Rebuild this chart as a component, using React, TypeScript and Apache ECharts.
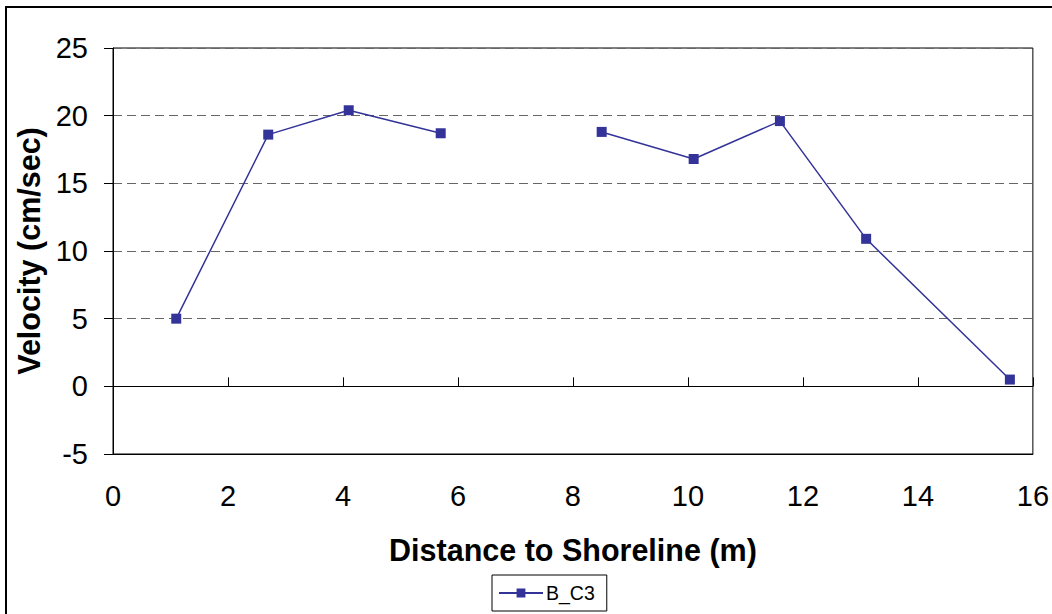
import React, { useEffect, useRef } from "react";
import * as echarts from "echarts";

const distance: number[] = [1.1, 2.7, 4.1, 5.7, 7.1, 8.5, 10.1, 11.6, 13.1, 15.6];
const velocity: (number | null)[] = [5.0, 18.6, 20.4, 18.7, null, 18.8, 16.8, 19.6, 10.9, 0.5];
const seriesName = "B_C3";
const xTitle = "Distance to Shoreline (m)";
const yTitle = "Velocity (cm/sec)";

const FONT = "'Liberation Sans', Arial, sans-serif";
const NAVY = "#333399";

export default function App() {
  const ref = useRef<HTMLDivElement>(null);
  useEffect(() => {
    if (!ref.current) return;
    const chart = echarts.init(ref.current, undefined, { renderer: "svg" });
    const data = distance.map((d, i) => [d, velocity[i] === null ? "-" : velocity[i]]);
    chart.setOption({
      animation: false,
      backgroundColor: "#fff",
      textStyle: { fontFamily: FONT },
      grid: {
        left: 113,
        right: 15,
        top: 48,
        bottom: 160,
        show: true,
        borderColor: "#000",
        borderWidth: 1,
      },
      xAxis: [
        {
          type: "value",
          min: 0,
          max: 16,
          interval: 2,
          position: "bottom",
          axisLine: { show: true, onZero: false, lineStyle: { color: "#000", width: 1 } },
          axisTick: { show: false },
          axisLabel: { color: "#000", fontSize: 29, fontFamily: FONT, margin: 27 },
          splitLine: { show: false },
          name: xTitle,
          nameLocation: "middle",
          nameGap: 80,
          nameTextStyle: { color: "#000", fontSize: 30.5, fontWeight: "bold", fontFamily: FONT },
        },
        {
          type: "value",
          min: 0,
          max: 16,
          interval: 2,
          axisLine: { show: true, onZero: true, lineStyle: { color: "#000", width: 1 } },
          axisTick: { show: true, inside: false, length: 9, lineStyle: { color: "#000" } },
          axisLabel: { show: false },
          splitLine: { show: false },
        },
      ],
      yAxis: {
        type: "value",
        min: -5,
        max: 25,
        interval: 5,
        axisLine: { show: true, onZero: false, lineStyle: { color: "#000", width: 1 } },
        axisTick: { show: true, length: 9, lineStyle: { color: "#000" } },
        axisLabel: { color: "#000", fontSize: 29, fontFamily: FONT, margin: 25 },
        splitLine: { show: true, lineStyle: { color: "#666", type: [9, 5], width: 1 } },
        name: yTitle,
        nameLocation: "middle",
        nameGap: 66,
        nameRotate: 90,
        nameTextStyle: { color: "#000", fontSize: 30.5, fontWeight: "bold", fontFamily: FONT },
      },
      legend: {
        left: 492,
        top: 575,
        orient: "horizontal",
        data: [seriesName],
        itemWidth: 44,
        itemHeight: 11,
        itemGap: 5,
        padding: [8, 12, 8, 6],
        borderColor: "#000",
        borderWidth: 1,
        textStyle: { color: "#000", fontSize: 19.5, fontFamily: FONT, padding: [0, 0, 0, -2] },
      },
      graphic: [
        {
          type: "rect",
          shape: { x: 6, y: 7, width: 1200, height: 800 },
          style: { fill: "none", stroke: "#000", lineWidth: 2 },
          silent: true,
        },
      ],
      series: [
        {
          name: seriesName,
          type: "line",
          xAxisIndex: 0,
          data,
          connectNulls: false,
          symbol: "rect",
          symbolSize: 10,
          itemStyle: { color: NAVY },
          lineStyle: { color: NAVY, width: 1.5 },
        },
      ],
    });
    return () => chart.dispose();
  }, []);
  return (
    <div
      ref={ref}
      style={{ position: "fixed", left: 0, top: 0, width: 1052, height: 614, background: "#fff" }}
    />
  );
}
